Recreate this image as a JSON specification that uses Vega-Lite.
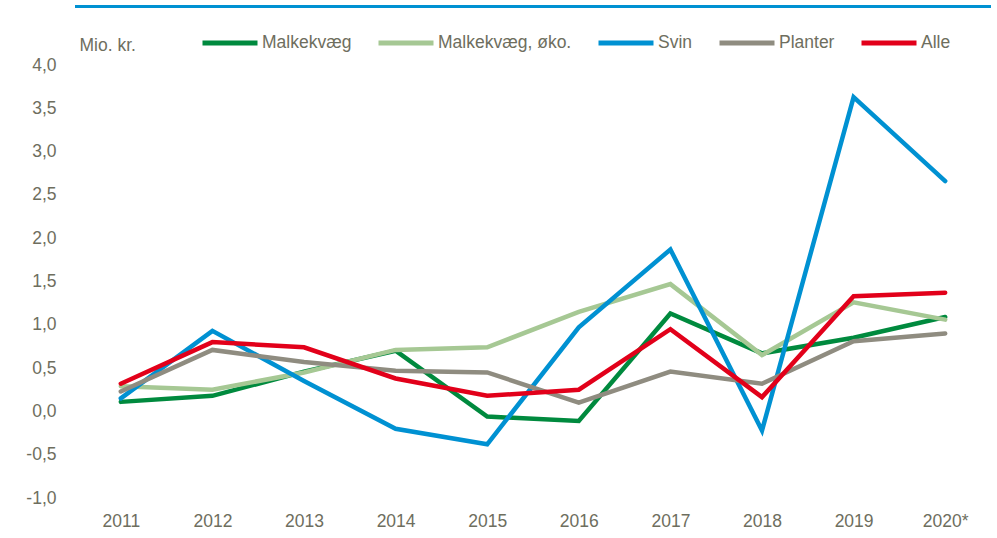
{
  "$schema": "https://vega.github.io/schema/vega-lite/v6.json",
  "width": 916,
  "height": 433,
  "autosize": {"type": "none"},
  "padding": {"left": 75, "top": 65, "right": 6, "bottom": 40},
  "background": "white",
  "config": {
    "view": {"stroke": null},
    "locale": {"number": {"decimal": ",", "thousands": ".", "grouping": [3], "currency": ["", " kr."], "minus": "-"}},
    "font": "Liberation Sans, Arial, sans-serif"
  },
  "data": {
    "values": [
      {"year": "2011", "serie": "Malkekvæg", "value": 0.11},
      {"year": "2012", "serie": "Malkekvæg", "value": 0.18},
      {"year": "2013", "serie": "Malkekvæg", "value": 0.46},
      {"year": "2014", "serie": "Malkekvæg", "value": 0.70},
      {"year": "2015", "serie": "Malkekvæg", "value": -0.06},
      {"year": "2016", "serie": "Malkekvæg", "value": -0.11},
      {"year": "2017", "serie": "Malkekvæg", "value": 1.13},
      {"year": "2018", "serie": "Malkekvæg", "value": 0.67},
      {"year": "2019", "serie": "Malkekvæg", "value": 0.85},
      {"year": "2020*", "serie": "Malkekvæg", "value": 1.09},
      {"year": "2011", "serie": "Malkekvæg, øko.", "value": 0.29},
      {"year": "2012", "serie": "Malkekvæg, øko.", "value": 0.25},
      {"year": "2013", "serie": "Malkekvæg, øko.", "value": 0.45},
      {"year": "2014", "serie": "Malkekvæg, øko.", "value": 0.71},
      {"year": "2015", "serie": "Malkekvæg, øko.", "value": 0.74},
      {"year": "2016", "serie": "Malkekvæg, øko.", "value": 1.15},
      {"year": "2017", "serie": "Malkekvæg, øko.", "value": 1.47},
      {"year": "2018", "serie": "Malkekvæg, øko.", "value": 0.65},
      {"year": "2019", "serie": "Malkekvæg, øko.", "value": 1.26},
      {"year": "2020*", "serie": "Malkekvæg, øko.", "value": 1.06},
      {"year": "2011", "serie": "Svin", "value": 0.15},
      {"year": "2012", "serie": "Svin", "value": 0.93},
      {"year": "2013", "serie": "Svin", "value": 0.35},
      {"year": "2014", "serie": "Svin", "value": -0.20},
      {"year": "2015", "serie": "Svin", "value": -0.38},
      {"year": "2016", "serie": "Svin", "value": 0.97},
      {"year": "2017", "serie": "Svin", "value": 1.87},
      {"year": "2018", "serie": "Svin", "value": -0.22},
      {"year": "2019", "serie": "Svin", "value": 3.63},
      {"year": "2020*", "serie": "Svin", "value": 2.66},
      {"year": "2011", "serie": "Planter", "value": 0.23},
      {"year": "2012", "serie": "Planter", "value": 0.71},
      {"year": "2013", "serie": "Planter", "value": 0.57},
      {"year": "2014", "serie": "Planter", "value": 0.47},
      {"year": "2015", "serie": "Planter", "value": 0.45},
      {"year": "2016", "serie": "Planter", "value": 0.10},
      {"year": "2017", "serie": "Planter", "value": 0.46},
      {"year": "2018", "serie": "Planter", "value": 0.32},
      {"year": "2019", "serie": "Planter", "value": 0.81},
      {"year": "2020*", "serie": "Planter", "value": 0.90},
      {"year": "2011", "serie": "Alle", "value": 0.32},
      {"year": "2012", "serie": "Alle", "value": 0.80},
      {"year": "2013", "serie": "Alle", "value": 0.74},
      {"year": "2014", "serie": "Alle", "value": 0.38},
      {"year": "2015", "serie": "Alle", "value": 0.18},
      {"year": "2016", "serie": "Alle", "value": 0.25},
      {"year": "2017", "serie": "Alle", "value": 0.95},
      {"year": "2018", "serie": "Alle", "value": 0.165},
      {"year": "2019", "serie": "Alle", "value": 1.33},
      {"year": "2020*", "serie": "Alle", "value": 1.37}
    ]
  },
  "layer": [
    {
      "mark": {"type": "rule", "color": "#0091d2", "strokeWidth": 3, "clip": false},
      "encoding": {
        "y": {"datum": 4.675, "type": "quantitative", "scale": {"domain": [-1, 4]}}
      }
    },
    {
      "mark": {"type": "line", "strokeWidth": 4.5, "strokeCap": "round"},
      "encoding": {
        "x": {
          "field": "year", "type": "ordinal",
          "scale": {"padding": 0.5},
          "axis": {
            "title": null, "domain": false, "ticks": false, "grid": false,
            "labelAngle": 0, "labelFontSize": 17.5, "labelColor": "#6e6e5e",
            "labelPadding": 14
          }
        },
        "y": {
          "field": "value", "type": "quantitative",
          "scale": {"domain": [-1, 4], "nice": false, "zero": false},
          "axis": {
            "values": [-1, -0.5, 0, 0.5, 1, 1.5, 2, 2.5, 3, 3.5, 4],
            "format": ".1f",
            "domain": false, "ticks": false,
            "gridColor": "#bdbcae", "gridWidth": 1.5,
            "labelFontSize": 17.5, "labelColor": "#6e6e5e", "labelPadding": 19,
            "title": "Mio. kr.", "titleAngle": 0, "titleAlign": "left",
            "titleBaseline": "alphabetic", "titleX": 4, "titleY": -15,
            "titleFontSize": 17.5, "titleFontWeight": "normal", "titleColor": "#6e6e5e"
          }
        },
        "color": {
          "field": "serie", "type": "nominal",
          "scale": {
            "domain": ["Malkekvæg", "Malkekvæg, øko.", "Svin", "Planter", "Alle"],
            "range": ["#008a3e", "#a6c894", "#0091d2", "#8f8c80", "#e2001a"]
          },
          "legend": {
            "title": null, "orient": "none", "direction": "horizontal",
            "legendX": 125, "legendY": -52,
            "symbolType": "stroke", "symbolSize": 3025, "symbolStrokeWidth": 5,
            "labelFontSize": 17.5, "labelColor": "#6e6e5e", "labelOffset": 2,
            "columnPadding": 16
          }
        }
      }
    }
  ]
}
